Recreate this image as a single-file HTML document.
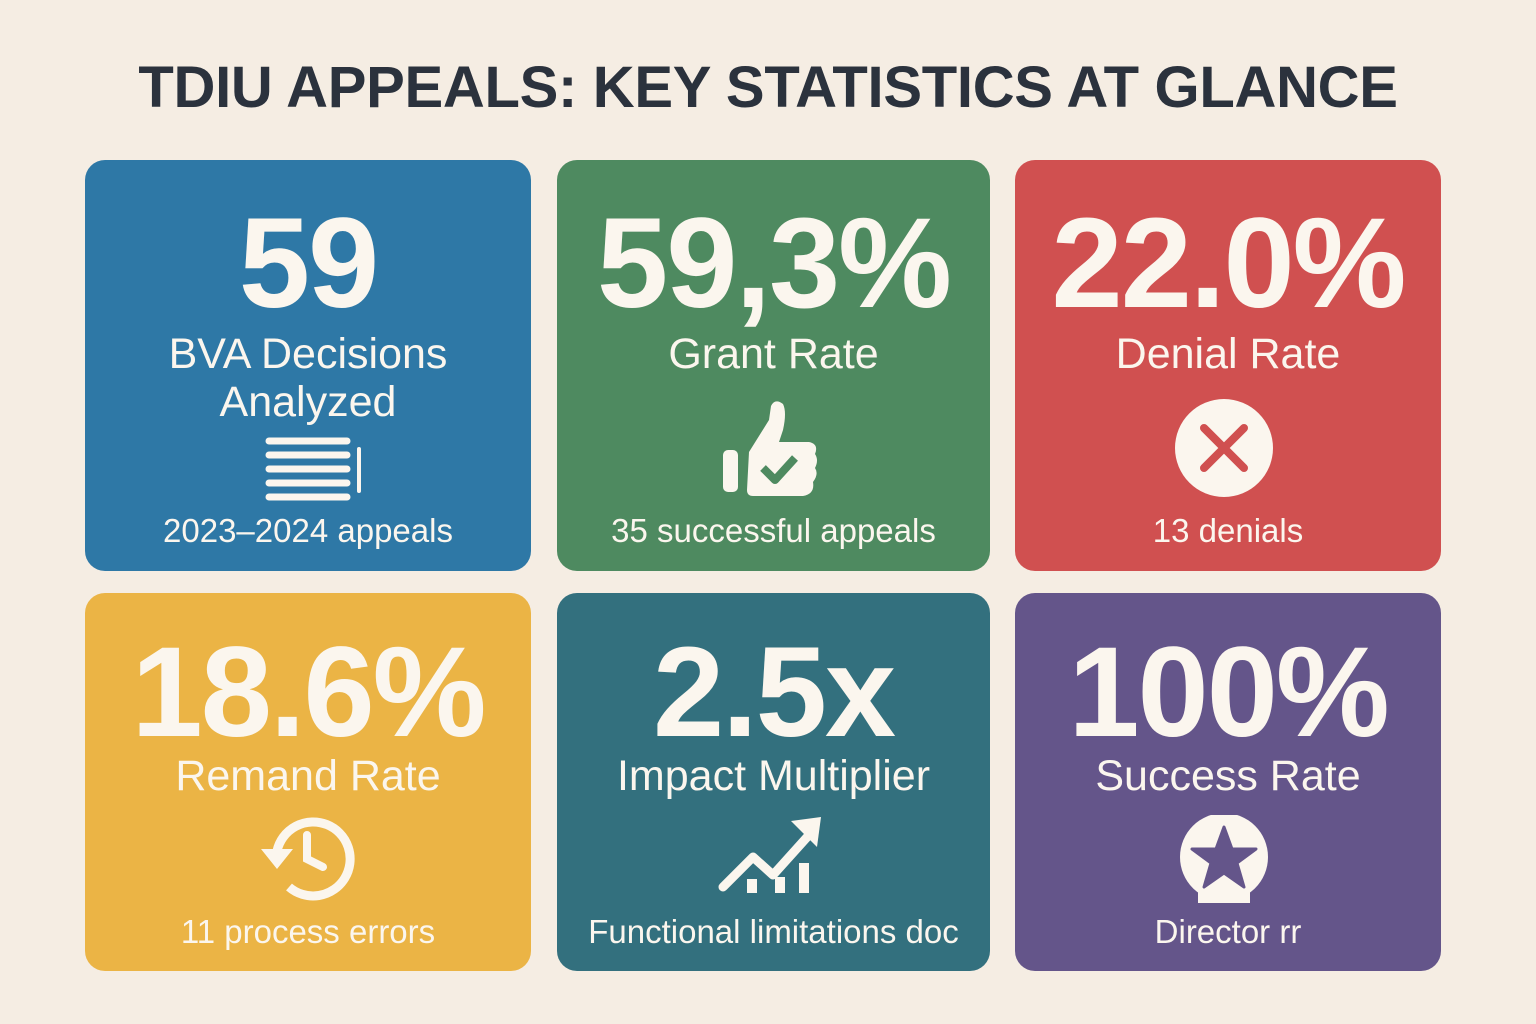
<!DOCTYPE html>
<html><head><meta charset="utf-8"><style>
*{margin:0;padding:0;box-sizing:border-box}
body{width:1536px;height:1024px;background:#f5ede3;position:relative;overflow:hidden;font-family:"Liberation Sans",sans-serif;color:#fbf6ee}
#title{position:absolute;top:54px;left:0;width:1536px;text-align:center;font-size:58px;font-weight:bold;color:#2b323d;letter-spacing:-0.3px}
.card{position:absolute;border-radius:20px}
.num{position:absolute;left:0;width:100%;text-align:center;font-weight:bold;font-size:128px;letter-spacing:-2px;line-height:1}
.lab{position:absolute;left:0;width:100%;text-align:center;font-size:43px;line-height:1}
.sub{position:absolute;left:0;width:100%;text-align:center;font-size:33px;line-height:1}
svg{position:absolute}
</style></head><body>
<div id="title">TDIU APPEALS: KEY STATISTICS AT GLANCE</div>

<div class="card" style="left:85px;top:160px;width:446px;height:411px;background:#2e78a6">
 <div class="num" style="top:40px">59</div>
 <div class="lab" style="top:170px;line-height:48px">BVA Decisions<br>Analyzed</div>
 <svg style="left:180px;top:275px" width="100" height="70" viewBox="0 0 100 70">
  <g stroke="#fbf6ee" stroke-width="7" stroke-linecap="round"><line x1="4" y1="6" x2="82" y2="6"/><line x1="4" y1="20" x2="82" y2="20"/><line x1="4" y1="34" x2="82" y2="34"/><line x1="4" y1="48" x2="82" y2="48"/><line x1="4" y1="62" x2="82" y2="62"/><line x1="94" y1="14" x2="94" y2="56" stroke-width="4"/></g>
 </svg>
 <div class="sub" style="top:354px">2023–2024 appeals</div>
</div>

<div class="card" style="left:557px;top:160px;width:433px;height:411px;background:#4e8a60">
 <div class="num" style="top:40px">59,3%</div>
 <div class="lab" style="top:173px">Grant Rate</div>
 <svg style="left:166px;top:240px" width="96" height="98" viewBox="0 0 96 98">
  <rect x="0" y="50" width="15" height="42" rx="5" fill="#fbf6ee"/>
  <path d="M26 52 L46 20 L48 6 Q52 -2 60 4 Q64 12 60 30 L56 42 L86 42 Q96 44 92 54 Q96 60 92 68 Q96 74 90 82 Q92 94 80 96 L30 96 Q24 96 24 90 Z" fill="#fbf6ee"/>
  <path d="M40 68 L52 80 L72 58" stroke="#4e8a60" stroke-width="8" fill="none" stroke-linejoin="round"/>
 </svg>
 <div class="sub" style="top:354px">35 successful appeals</div>
</div>

<div class="card" style="left:1015px;top:160px;width:426px;height:411px;background:#d05050">
 <div class="num" style="top:40px">22.0%</div>
 <div class="lab" style="top:173px">Denial Rate</div>
 <svg style="left:159px;top:238px" width="100" height="100" viewBox="0 0 100 100">
  <circle cx="50" cy="50" r="49" fill="#fbf6ee"/>
  <path d="M30 30 L70 70 M70 30 L30 70" stroke="#d05050" stroke-width="8" stroke-linecap="round"/>
 </svg>
 <div class="sub" style="top:354px">13 denials</div>
</div>

<div class="card" style="left:85px;top:593px;width:446px;height:378px;background:#ebb445">
 <div class="num" style="top:36px">18.6%</div>
 <div class="lab" style="top:162px">Remand Rate</div>
 <svg style="left:170px;top:220px" width="100" height="90" viewBox="0 0 100 90">
  <path d="M22 38 A37 37 0 1 1 34 74" stroke="#fbf6ee" stroke-width="9" fill="none"/>
  <path d="M6 36 L38 36 L22 56 Z" fill="#fbf6ee"/>
  <path d="M52 22 L52 46 L68 54" stroke="#fbf6ee" stroke-width="8" fill="none" stroke-linecap="round"/>
 </svg>
 <div class="sub" style="top:322px">11 process errors</div>
</div>

<div class="card" style="left:557px;top:593px;width:433px;height:378px;background:#33707e">
 <div class="num" style="top:36px">2.5x</div>
 <div class="lab" style="top:162px">Impact Multiplier</div>
 <svg style="left:160px;top:222px" width="108" height="80" viewBox="0 0 108 80">
  <path d="M6 72 L36 42 L56 60 L92 20" stroke="#fbf6ee" stroke-width="9" fill="none" stroke-linejoin="round" stroke-linecap="round"/>
  <path d="M74 6 L104 2 L100 32 Z" fill="#fbf6ee"/>
  <rect x="30" y="64" width="10" height="14" fill="#fbf6ee"/><rect x="58" y="62" width="10" height="16" fill="#fbf6ee"/><rect x="82" y="48" width="10" height="30" fill="#fbf6ee"/>
 </svg>
 <div class="sub" style="top:322px">Functional limitations doc</div>
</div>

<div class="card" style="left:1015px;top:593px;width:426px;height:378px;background:#64558a">
 <div class="num" style="top:36px">100%</div>
 <div class="lab" style="top:162px">Success Rate</div>
 <svg style="left:163px;top:222px" width="92" height="88" viewBox="0 0 92 88">
  <circle cx="46" cy="42" r="44" fill="#fbf6ee"/>
  <rect x="20" y="70" width="52" height="18" fill="#fbf6ee"/>
  <path d="M46 12 L54 34 L78 34 L59 48 L66 72 L46 58 L26 72 L33 48 L14 34 L38 34 Z" fill="#64558a" stroke="#64558a" stroke-width="3" stroke-linejoin="round"/>
 </svg>
 <div class="sub" style="top:322px">Director rr</div>
</div>
</body></html>
